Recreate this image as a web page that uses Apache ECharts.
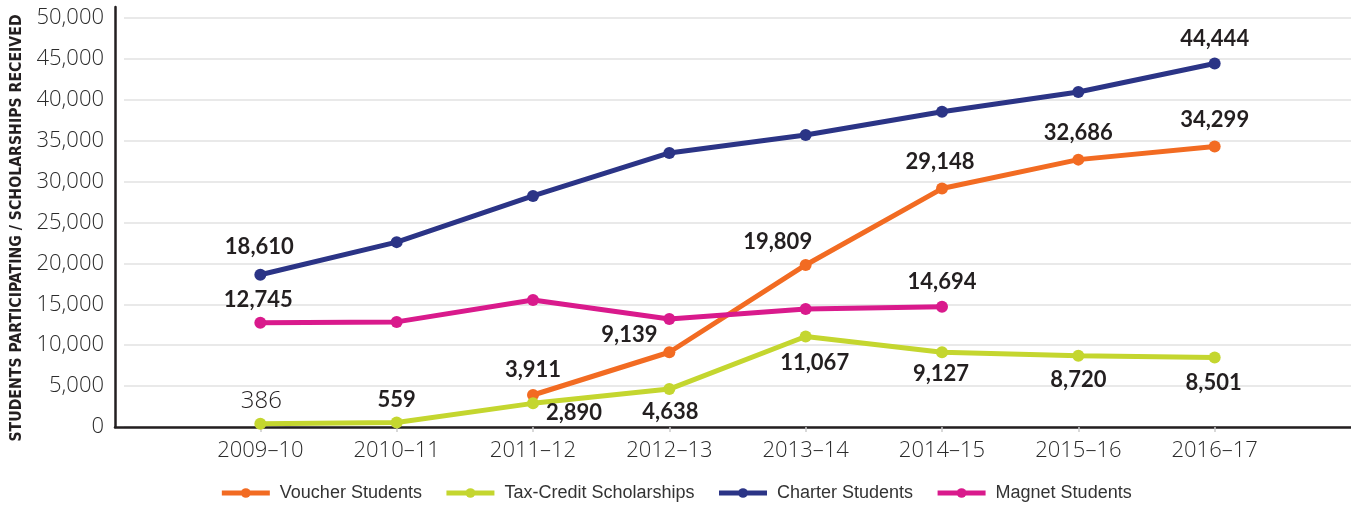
<!DOCTYPE html>
<html>
<head>
<meta charset="utf-8">
<script src="https://cdn.jsdelivr.net/npm/echarts@6/dist/echarts.min.js"></script>
<style>html,body{margin:0;padding:0;background:#fff;}#c{width:1351px;height:506px;}</style>
</head>
<body>
<div id="c"></div>
<script>
const categories = ['2009–10','2010–11','2011–12','2012–13','2013–14','2014–15','2015–16','2016–17'];
const voucher  = [null, null, 3911, 9139, 19809, 29148, 32686, 34299];
const taxCredit = [386, 559, 2890, 4638, 11067, 9127, 8720, 8501];
const charter  = [18610, 22600, 28250, 33500, 35700, 38550, 40950, 44444];
const magnet   = [12745, 12850, 15520, 13200, 14420, 14694, null, null];
const yTicks = [0, 5000, 10000, 15000, 20000, 25000, 30000, 35000, 40000, 45000, 50000];

// label placement (offset of label centre from the point), null = no label
const labelVoucher = [null, null, [0,-25], [-40,-17], [-28,-23], [-2,-27], [0,-27], [0,-27]];
const labelTax = [[1,-23], [0,-23], [41,10], [1,23], [9,26], [-1,22], [0,24], [-1,25]];
const labelCharter = [[-1,-28], null, null, null, null, null, null, [0,-25]];
const labelMagnet = [[-2,-23], null, null, null, null, [0,-25], null, null];

const fmt = v => v.toLocaleString('en-US');
const baseLabel = {fontFamily:'Lato', fontWeight:'bold', fontSize:22, color:'#231f20'};

function build(values, labels, special) {
  const out = [null];
  values.forEach((v, i) => {
    if (v === null) { out.push(null); return; }
    const l = labels[i];
    const item = {value: v};
    if (l) {
      item.label = Object.assign({show:true, position:'inside', offset:l, formatter: () => fmt(v)}, baseLabel,
        special && special[i] ? special[i] : {});
    } else {
      item.label = {show:false};
    }
    out.push(item);
  });
  out.push(null);
  return out;
}

const axisCats = [''].concat(categories, ['']);
const colors = {voucher:'#F26B22', tax:'#C4D62F', charter:'#2B3486', magnet:'#D91A8C'};

function line(name, color, data) {
  return {
    name, type:'line', data, xAxisIndex:0, yAxisIndex:0,
    symbol:'circle', symbolSize:12, connectNulls:false,
    lineStyle:{width:5, color}, itemStyle:{color},
    emphasis:{disabled:true}, z:3
  };
}

const tickFont = {fontFamily:'Open Sans', fontWeight:300, fontSize:22, color:'#2b2b2b'};

const chart = echarts.init(document.getElementById('c'));
chart.setOption({
  animation:false,
  grid:[
    {left:124, right:0, top:18, bottom:79, outerBoundsMode:'none', containLabel:false},
    {left:115, right:0, top:7, bottom:79, outerBoundsMode:'none', containLabel:false}
  ],
  xAxis:[
    {type:'category', gridIndex:0, data:axisCats, boundaryGap:false,
     axisLine:{show:false},
     axisTick:{show:true, length:5, lineStyle:{color:'#cccccc', width:1.5},
       interval:(i) => i > 0 && i < axisCats.length - 1},
     axisLabel:Object.assign({margin:13, interval:0}, tickFont)},
    {type:'value', gridIndex:1, min:0, max:1, axisLine:{show:true, lineStyle:{color:'#231f20', width:2.5}},
     axisTick:{show:false}, axisLabel:{show:false}, splitLine:{show:false}}
  ],
  yAxis:[
    {type:'value', gridIndex:0, min:yTicks[0], max:yTicks[yTicks.length-1], interval:5000,
     axisLine:{show:false}, axisTick:{show:false},
     axisLabel:Object.assign({margin:20, formatter: v => fmt(v)}, tickFont),
     splitLine:{show:true, lineStyle:{color:'#e2e2e2', width:1.5}}},
    {type:'value', gridIndex:1, min:0, max:1,
     axisLine:{show:true, lineStyle:{color:'#231f20', width:2.5}},
     axisTick:{show:false}, axisLabel:{show:false}, splitLine:{show:false},
     name:'STUDENTS PARTICIPATING / SCHOLARSHIPS RECEIVED', nameLocation:'middle', nameGap:90,
     nameTextStyle:{fontFamily:'DejaVu Sans Condensed', fontWeight:'bold', fontSize:15.7, color:'#231f20',
       padding:[0,22,0,0]}}
  ],
  legend:{
    left:'center', top:479, itemWidth:48, itemHeight:12, itemGap:22,
    lineStyle:{width:5}, itemStyle:{},
    textStyle:{fontFamily:'Liberation Sans', fontSize:18, color:'#333', padding:[0,0,0,5]},
    data:['Voucher Students','Tax-Credit Scholarships','Charter Students','Magnet Students']
  },
  series:[
    line('Voucher Students', colors.voucher, build(voucher, labelVoucher)),
    line('Tax-Credit Scholarships', colors.tax, build(taxCredit, labelTax,
      [{fontFamily:'Open Sans', fontWeight:300, fontSize:24}])),
    line('Charter Students', colors.charter, build(charter, labelCharter)),
    line('Magnet Students', colors.magnet, build(magnet, labelMagnet))
  ]
});
</script>
</body>
</html>
